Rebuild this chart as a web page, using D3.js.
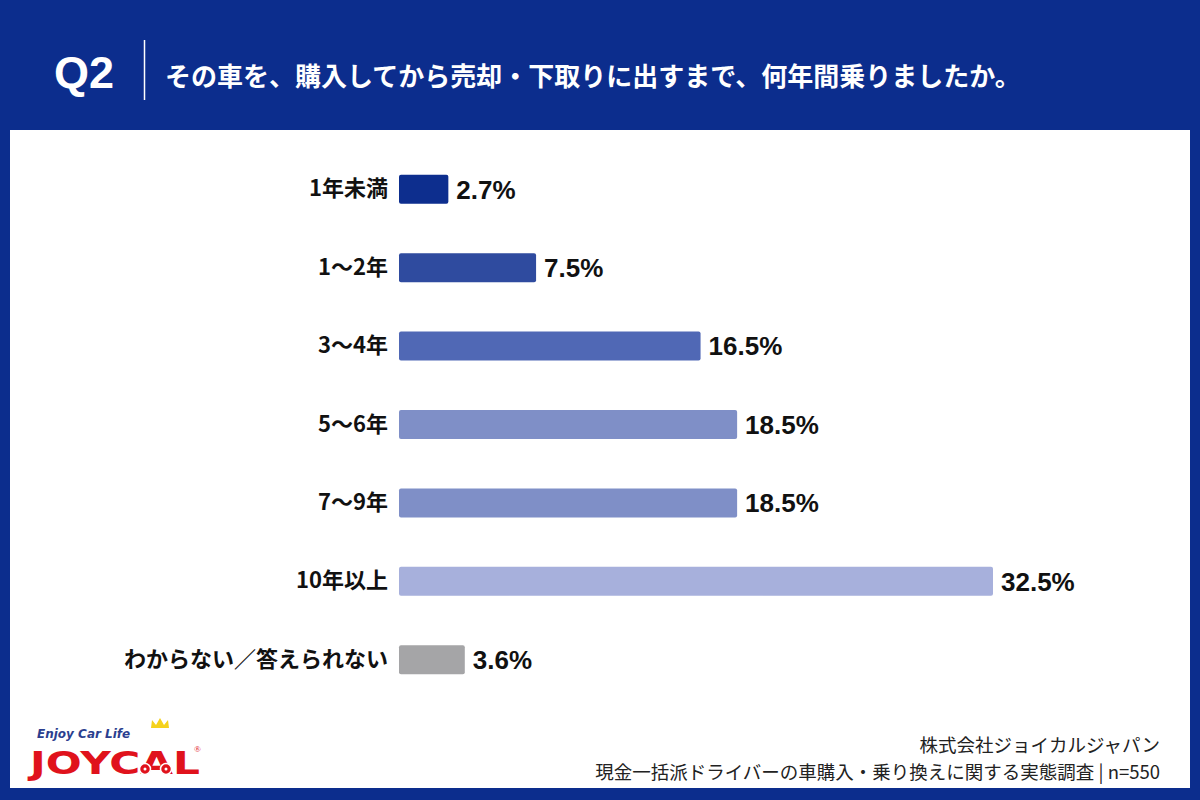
<!DOCTYPE html>
<html><head><meta charset="utf-8">
<script src="https://cdn.jsdelivr.net/npm/d3@7"></script>
<style>
html,body{margin:0;padding:0;background:#0c2d8d;}
svg{display:block;}
</style></head>
<body>
<svg id="c" width="1200" height="800"></svg>
<script>
const categories = ["1年未満","1〜2年","3〜4年","5〜6年","7〜9年","10年以上","わからない／答えられない"];
const values = [2.7, 7.5, 16.5, 18.5, 18.5, 32.5, 3.6];
const colors = ["#0d2e8e","#2f4b9f","#5068b5","#7f8fc7","#7f8fc7","#a7b0dc","#a5a5a7"];
const titleQ = "Q2";
const titleText = "その車を、購入してから売却・下取りに出すまで、何年間乗りましたか。";
const sourceLines = ["株式会社ジョイカルジャパン","現金一括派ドライバーの車購入・乗り換えに関する実態調査 | n=550"];

const JP = '"Noto Sans CJK JP", "Noto Sans", sans-serif';
const LAT = '"Liberation Sans", Arial, sans-serif';

const svg = d3.select("#c");
svg.append("rect").attr("width",1200).attr("height",800).attr("fill","#0c2d8d");
svg.append("rect").attr("x",10).attr("y",130).attr("width",1180).attr("height",658).attr("fill","#ffffff");

// header
svg.append("text").attr("x",54).attr("y",88).attr("fill","#fff")
  .style("font-family",LAT).style("font-weight","bold").style("font-size","45px")
  .text(titleQ);
svg.append("line").attr("x1",144.5).attr("x2",144.5).attr("y1",40).attr("y2",100)
  .attr("stroke","#fff").attr("stroke-width",1.5);
svg.append("text").attr("x",165).attr("y",86).attr("fill","#fff")
  .style("font-family",JP).style("font-weight","bold").style("font-size","26px").text(titleText);

// scales
const x = d3.scaleLinear().domain([0, 32.5]).range([399, 993]);
const y = d3.scaleBand().domain(categories).range([150, 699]).paddingInner(0.63).paddingOuter(0.315);

const g = svg.append("g");
g.selectAll("rect.bar").data(categories).join("rect").attr("class","bar")
  .attr("x", x(0)).attr("y", d => y(d))
  .attr("width", (d,i) => x(values[i]) - x(0)).attr("height", y.bandwidth())
  .attr("rx",2).attr("fill",(d,i)=>colors[i]);

// category labels
const yAxis = d3.axisLeft(y).tickSize(0).tickPadding(11);
const ax = svg.append("g").attr("transform",`translate(${x(0)},0)`).call(yAxis);
ax.select(".domain").remove();
ax.selectAll("text").style("font-family",JP).style("font-weight","bold")
  .style("font-size","22px").attr("fill","#111");

// value labels
g.selectAll("text.val").data(categories).join("text").attr("class","val")
  .attr("x",(d,i)=>x(values[i])+8).attr("y",d=>y(d)+y.bandwidth()/2)
  .attr("dy","0.36em").style("font-family",LAT)
  .style("font-weight","bold").style("font-size","26px").attr("fill","#111")
  .text((d,i)=>values[i].toFixed(1)+"%");

// source
svg.selectAll("text.src").data(sourceLines).join("text").attr("class","src")
  .attr("x",1160).attr("y",(d,i)=>752+i*27).attr("text-anchor","end")
  .style("font-family",JP).style("font-size","18.5px").attr("fill","#222").text(d=>d);

// logo
const lg = svg.append("g");
lg.append("text").attr("x",37).attr("y",738).style("font-family",'"DejaVu Sans", sans-serif')
  .style("font-weight","bold").style("font-style","italic").style("font-size","12px").attr("fill","#2b3f8f")
  .text("Enjoy Car Life");
lg.append("text").attr("x",30).attr("y",774).style("font-family",'"DejaVu Sans", sans-serif')
  .style("font-weight","bold").style("font-size","32px").attr("fill","#e0121c").attr("textLength",170)
  .attr("lengthAdjust","spacingAndGlyphs").text("JOYCAL");
lg.append("path").attr("d","M151,728 L152,720 L156,725 L160,718 L164,725 L168,720 L169,728 Z").attr("fill","#f5d21c");
[[145,769],[166,769]].forEach(([cx,cy])=>{
  lg.append("circle").attr("cx",cx).attr("cy",cy).attr("r",5.5).attr("fill","#e0121c").attr("stroke","#fff").attr("stroke-width",1.5);
  lg.append("circle").attr("cx",cx).attr("cy",cy).attr("r",1.5).attr("fill","#fff");
});
lg.append("text").attr("x",194).attr("y",752).style("font-size","9px").attr("fill","#e0121c").text("®");
</script>
</body></html>
